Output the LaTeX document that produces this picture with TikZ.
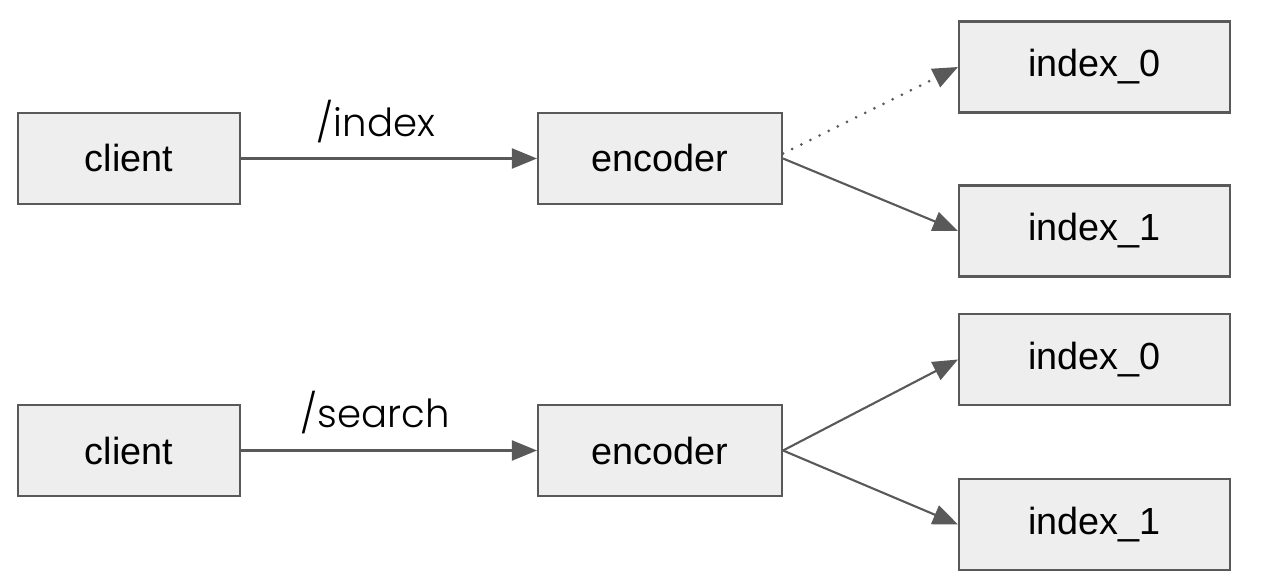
\documentclass[tikz,border=0pt]{standalone}
\usepackage{fontspec}
\setmainfont{Liberation Sans}
\newfontfamily\pathfont{Poppins}[UprightFont=* Light]
\usetikzlibrary{arrows.meta}

\definecolor{boxfill}{HTML}{EEEEEE}
\definecolor{edgegray}{HTML}{595959}

\begin{document}
\begin{tikzpicture}[x=0.02cm, y=-0.02cm,
        box/.style={draw=edgegray, fill=boxfill, line width=1.2pt, minimum width=4.44cm, minimum height=1.82cm, inner sep=0pt, font=\fontsize{21.5}{26}\selectfont},
        wide/.style={minimum width=4.88cm},
        link/.style={draw=edgegray, line width=1.2pt, -{Triangle[length=0.5cm, width=0.4cm]}},
        lbl/.style={font=\pathfont\fontsize{22}{26}\selectfont, inner sep=0pt}]
        \useasboundingbox (0,0) rectangle (1262,584);

        % /index
        \node[box] (client1) at (129,158.5) {client};
        \node[box, wide] (encoder1) at (660,158.5) {encoder};
        \node[box, minimum width=5.42cm] (index10) at (1094.5,67) {index\_0};
        \node[box, minimum width=5.42cm] (index11) at (1094.5,231) {index\_1};
        \node[lbl] (indexlbl) at (376,122) {/index};

        \draw[link] (client1) -- (encoder1);
        \draw[link, line width=1.7pt, line cap=round, dash pattern=on 0pt off 5.8pt] (encoder1.east) ++(0,-5) coordinate (enc1top) (enc1top) -- (index10.west);
        \draw[link] (encoder1.east) -- (index11.west);

        % /search
        \node[box] (client2) at (129,450.5) {client};
        \node[box, wide] (encoder2) at (660,450.5) {encoder};
        \node[box, minimum width=5.42cm] (index20) at (1094.5,359.5) {index\_0};
        \node[box, minimum width=5.42cm] (index21) at (1094.5,524.5) {index\_1};
        \node[lbl] (searchlbl) at (375,413) {/search};

        \draw[link] (client2) -- (encoder2);
        \draw[link] (encoder2.east) -- (index20.west);
        \draw[link] (encoder2.east) -- (index21.west);
    \end{tikzpicture}
\end{document}
